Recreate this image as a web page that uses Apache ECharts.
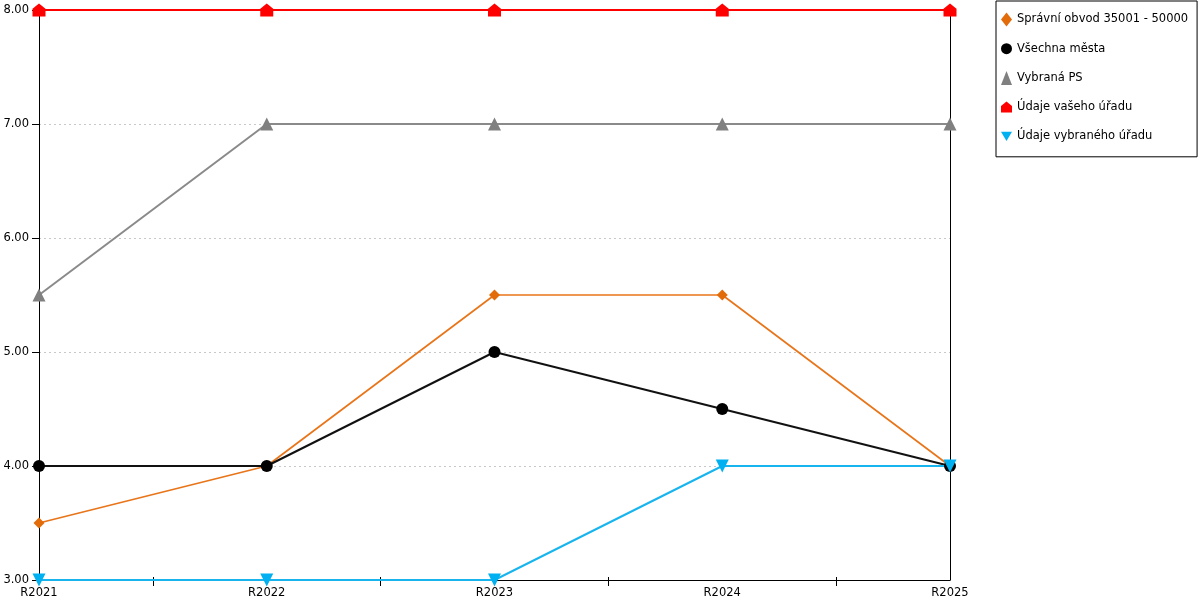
<!DOCTYPE html>
<html>
<head>
<meta charset="utf-8">
<script src="https://cdn.jsdelivr.net/npm/echarts@6/dist/echarts.min.js"></script>
<style>html,body{margin:0;padding:0;background:#fff}#c{width:1200px;height:600px}</style>
</head>
<body>
<div id="c"></div>
<script>
const categories = ['R2021', 'R2022', 'R2023', 'R2024', 'R2025'];
const seriesNames = ['Správní obvod 35001 - 50000', 'Všechna města', 'Vybraná PS', 'Údaje vašeho úřadu', 'Údaje vybraného úřadu'];
const spravniObvod = [3.5, 4, 5.5, 5.5, 4];
const vsechnaMesta = [4, 4, 5, 4.5, 4];
const vybranaPS = [5.5, 7, 7, 7, 7];
const udajeVasehoUradu = [8, 8, 8, 8, 8];
const udajeVybranehoUradu = [3, 3, 3, 4, 4];

const house = 'path://M0,10 L0,4 L5,0 L10,4 L10,10 Z';
const triDown = 'path://M0,0 L10,0 L5,8.5 Z';
const font = 'DejaVu Sans';
const fs = 11.5;

const chart = echarts.init(document.getElementById('c'), null, {renderer: 'canvas'});
chart.setOption({
  animation: false,
  textStyle: {fontFamily: font},
  grid: {left: 39, right: 250, top: 10, bottom: 20, containLabel: false},
  legend: {
    orient: 'vertical',
    left: 996, top: 1,
    padding: [11, 9, 13, 5],
    itemGap: 14.2,
    itemWidth: 11, itemHeight: 14,
    borderColor: '#000', borderWidth: 1,
    textStyle: {fontFamily: font, fontSize: fs, color: '#000', padding: [1, 0, 0, 0], lineHeight: 14},
    data: [
      {name: seriesNames[0], icon: 'diamond'},
      {name: seriesNames[1], icon: 'circle'},
      {name: seriesNames[2], icon: 'triangle'},
      {name: seriesNames[3], icon: house},
      {name: seriesNames[4], icon: triDown}
    ]
  },
  xAxis: [
    {
      type: 'category', data: categories, boundaryGap: false,
      axisLine: {onZero: false, lineStyle: {color: '#000', width: 1}},
      axisTick: {show: false},
      axisLabel: {color: '#000', fontSize: fs, fontFamily: font, margin: 7},
      splitLine: {show: false}
    },
    {
      type: 'value', min: 0, max: 4, position: 'bottom',
      axisLine: {show: false, onZero: false}, axisLabel: {show: false}, splitLine: {show: false},
      axisTick: {show: true, customValues: [0.5, 1.5, 2.5, 3.5], length: 6, lineStyle: {color: '#000'}}
    },
    {
      type: 'value', min: 0, max: 4, position: 'bottom',
      axisLine: {show: false, onZero: false}, axisLabel: {show: false}, splitLine: {show: false},
      axisTick: {show: true, inside: true, customValues: [0.5, 1.5, 2.5, 3.5], length: 3, lineStyle: {color: '#000'}}
    }
  ],
  yAxis: [
    {
      type: 'value', min: 3, max: 8, interval: 1, position: 'left',
      axisLine: {show: true, onZero: false, lineStyle: {color: '#000'}},
      axisTick: {show: true, length: 7, lineStyle: {color: '#000'}},
      axisLabel: {color: '#000', fontSize: fs, fontFamily: font, margin: 10, formatter: v => v.toFixed(2)},
      splitLine: {show: true, lineStyle: {color: '#c8c8c8', type: [2, 3], width: 1}}
    },
    {
      type: 'value', min: 3, max: 8, interval: 1, position: 'right',
      axisLine: {show: true, onZero: false, lineStyle: {color: '#000'}},
      axisTick: {show: false}, axisLabel: {show: false}, splitLine: {show: false}
    }
  ],
  series: [
    {name: seriesNames[0], type: 'line', data: spravniObvod, symbol: 'diamond', symbolSize: 11,
      itemStyle: {color: '#e26b0a'}, lineStyle: {color: '#e8751a', width: 1.7}},
    {name: seriesNames[1], type: 'line', data: vsechnaMesta, symbol: 'circle', symbolSize: 12,
      itemStyle: {color: '#000'}, lineStyle: {color: '#111', width: 2}},
    {name: seriesNames[2], type: 'line', data: vybranaPS, symbol: 'triangle', symbolSize: 13,
      itemStyle: {color: '#808080'}, lineStyle: {color: '#8a8a8a', width: 2}},
    {name: seriesNames[3], type: 'line', data: udajeVasehoUradu, symbol: house, symbolSize: 13,
      itemStyle: {color: '#ff0000'}, lineStyle: {color: '#ff0000', width: 2}},
    {name: seriesNames[4], type: 'line', data: udajeVybranehoUradu, symbol: triDown, symbolSize: 13,
      itemStyle: {color: '#00b0f0'}, lineStyle: {color: '#17b4ee', width: 2}}
  ]
});
</script>
</body>
</html>
